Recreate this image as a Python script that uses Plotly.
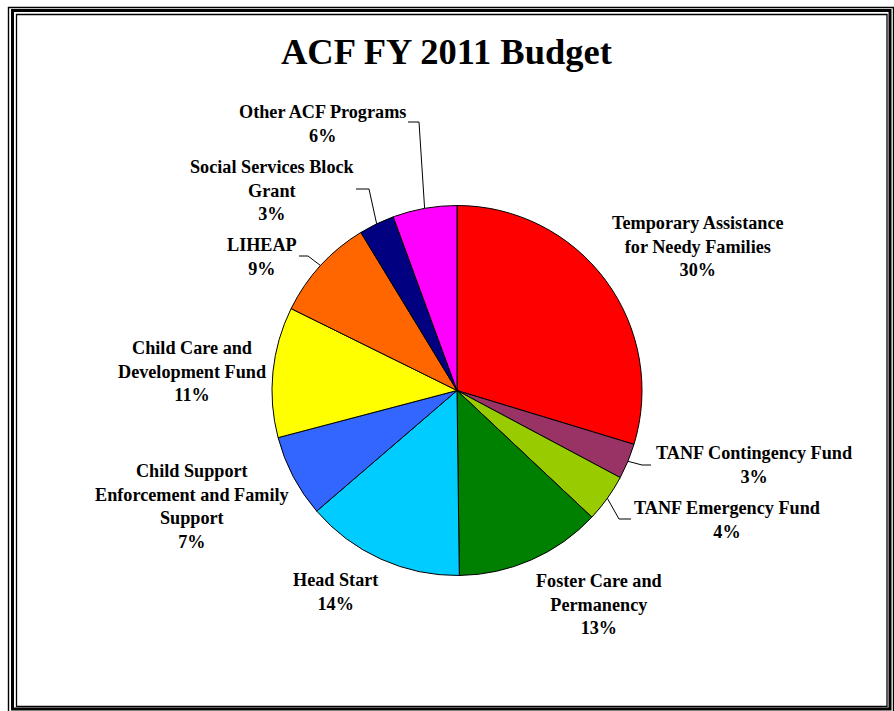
import math
import plotly.graph_objects as go

# ---------------- data ----------------
programs = [
    "Temporary Assistance<br>for Needy Families",
    "TANF Contingency Fund",
    "TANF Emergency Fund",
    "Foster Care and<br>Permanency",
    "Head Start",
    "Child Support<br>Enforcement and Family<br>Support",
    "Child Care and<br>Development Fund",
    "LIHEAP",
    "Social Services Block<br>Grant",
    "Other ACF Programs",
]
shares = [29.7, 3.1, 4.2, 12.8, 13.9, 7.2, 11.4, 9.0, 3.1, 5.6]
colors = ["#FF0000", "#993366", "#99CC00", "#008000", "#00CCFF",
          "#3366FF", "#FFFF00", "#FF6600", "#000080", "#FF00FF"]
title_text = "ACF FY 2011 Budget"

# ---------------- layout / style ----------------
W, H = 894, 711
CX, CY, R = 457.0, 390.5, 185.0  # pie centre and radius in pixels
FONT = "Liberation Serif, Times New Roman, serif"

# label block centres (pixels) - annotation placement
label_pos = [
    (698, 246), (754, 465), (727, 520), (599, 604), (335, 592),
    (192, 507), (192, 371), (262, 257), (272, 191), (322, 124),
]
# leader lines: index -> (label-side x, y, elbow x)
leaders = {
    1: (651, 465, 642),
    2: (631, 519, 619),
    7: (299, 256, 308),
    8: (356, 189, 369),
    9: (408, 122, 419),
}


def px(x):
    return x / W


def py(y):
    return 1 - y / H


fig = go.Figure()
fig.add_trace(go.Pie(
    labels=[p.replace("<br>", " ") for p in programs],
    values=shares,
    sort=False,
    direction="clockwise",
    rotation=0,
    textinfo="none",
    marker=dict(colors=colors, line=dict(color="black", width=1)),
    domain=dict(x=[px(CX - R), px(CX + R)], y=[py(CY + R), py(CY - R)]),
    showlegend=False,
    hoverinfo="label+percent",
))

total = sum(shares)
annotations = []
shapes = []
cum = 0.0
for i, (name, v) in enumerate(zip(programs, shares)):
    pct = round(v / total * 100)
    lx, ly = label_pos[i]
    annotations.append(dict(
        x=px(lx), y=py(ly), xref="paper", yref="paper",
        xanchor="center", yanchor="middle", showarrow=False,
        text=f"{name}<br>{pct}%", align="center",
        font=dict(family=FONT, size=18.2, color="black", weight="bold"),
    ))
    mid = (cum + v / 2) / total * 2 * math.pi
    cum += v
    if i in leaders:
        sx, sy, ex = leaders[i]
        edge_x = CX + R * math.sin(mid)
        edge_y = CY - R * math.cos(mid)
        path = (f"M {px(sx)} {py(sy)} L {px(ex)} {py(sy)} "
                f"L {px(edge_x)} {py(edge_y)}")
        shapes.append(dict(type="path", path=path, xref="paper", yref="paper",
                           line=dict(color="black", width=1)))

# title
annotations.append(dict(
    x=px(446), y=py(51), xref="paper", yref="paper",
    xanchor="center", yanchor="middle", showarrow=False,
    text=title_text,
    font=dict(family=FONT, size=36.5, color="black", weight="bold"),
))

# triple frame
for (x0, y0, x1, y1, w) in [
    (8.5, 7.5, 893.5, 713, 1.4),
    (12.5, 10.5, 890, 709, 3),
    (16.5, 14.5, 887, 706.5, 1.3),
]:
    shapes.append(dict(type="rect", xref="paper", yref="paper",
                       x0=px(x0), x1=px(x1), y0=py(y1), y1=py(y0),
                       line=dict(color="black", width=w)))

fig.update_layout(
    width=W, height=H,
    margin=dict(l=0, r=0, t=0, b=0),
    paper_bgcolor="white", plot_bgcolor="white",
    annotations=annotations, shapes=shapes,
)

fig.write_html("out.html", config={"displayModeBar": False},
               post_script="document.body.style.margin='0';")
